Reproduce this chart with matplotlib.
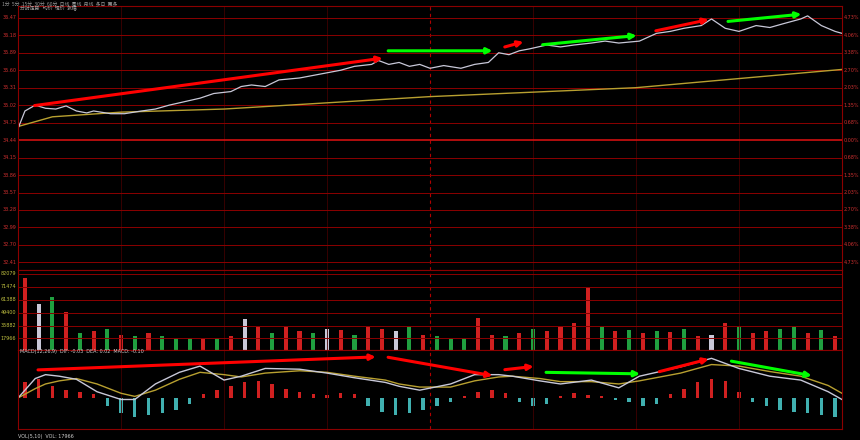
import matplotlib.pyplot as plt
import numpy as np

# intraday minute index (0..240) and % change
price_t = [0, 2, 5, 8, 11, 14, 17, 20, 22, 27, 31, 36, 40, 44, 49, 53, 57, 62, 65, 68, 72, 76,
           82, 88, 94, 98, 103, 105, 108, 111, 114, 117, 120, 124, 129, 133, 137, 140, 143, 146,
           149, 154, 158, 162, 167, 171, 175, 181, 186, 190, 194, 199, 202, 206, 210, 215, 219,
           223, 228, 230, 234, 238, 240]
price = [0.30, 0.75, 0.90, 0.82, 0.80, 0.88, 0.75, 0.70, 0.75, 0.68, 0.68, 0.75, 0.80, 0.90,
         1.00, 1.08, 1.20, 1.25, 1.38, 1.42, 1.38, 1.55, 1.60, 1.70, 1.80, 1.90, 1.95, 2.05, 1.95,
         2.00, 1.90, 1.95, 1.85, 1.92, 1.85, 1.95, 2.00, 2.25, 2.20, 2.30, 2.35, 2.45, 2.40, 2.45,
         2.50, 2.55, 2.50, 2.55, 2.75, 2.80, 2.88, 2.95, 3.12, 2.88, 2.80, 2.95, 2.90, 3.00, 3.12,
         3.20, 2.95, 2.80, 2.75]
avg_t = [0, 10, 30, 60, 120, 180, 240]
avg = [0.35, 0.60, 0.72, 0.80, 1.12, 1.35, 1.82]

left_labels = ['36.47', '36.18', '35.89', '35.60', '35.31', '35.02', '34.73', '34.44',
               '34.15', '33.86', '33.57', '33.28', '32.99', '32.70', '32.41']
right_labels = ['4.73%', '4.06%', '3.38%', '2.70%', '2.03%', '1.35%', '0.68%', '0.00%',
                '0.68%', '1.35%', '2.03%', '2.70%', '3.38%', '4.06%', '4.73%']

vol_t = list(range(2, 240, 4))
vol = [95, 60, 70, 50, 22, 25, 28, 20, 18, 22, 18, 15, 16, 14, 15, 18, 40, 30, 22, 30, 25,
       22, 28, 26, 20, 30, 28, 25, 30, 20, 18, 14, 16, 42, 20, 18, 22, 28, 25, 30, 35, 82,
       30, 25, 26, 22, 25, 24, 28, 18, 20, 35, 30, 22, 25, 28, 30, 22, 26, 18]
vol_c = list('rwgrgrgrgrgggrgrwrgrrgwrgrrwgrgggrrgrgrrrrgrgrgrgrwrgrrggrgr')
vol_labels = ['82079', '71474', '61388', '49400', '35882', '17966']

macd_t = [0, 5, 8, 12, 17, 23, 30, 34, 40, 47, 53, 60, 65, 72, 82, 90, 98, 107, 111, 117,
          126, 133, 140, 144, 152, 158, 167, 175, 181, 193, 202, 210, 219, 228, 236, 240]
dif = [0.0, 2.5, 3.0, 2.8, 2.4, 0.8, -0.2, -0.2, 1.8, 3.3, 4.1, 2.3, 2.8, 3.8, 3.7, 3.2,
       2.6, 2.0, 1.5, 1.0, 1.8, 3.0, 3.0, 2.8, 2.2, 1.8, 2.3, 1.3, 2.8, 4.0, 5.1, 3.8, 2.8,
       2.3, 0.8, -0.2]
dea = [0.0, 1.2, 1.8, 2.2, 2.5, 1.8, 0.6, 0.2, 1.0, 2.4, 3.3, 3.0, 2.7, 3.2, 3.5, 3.3, 2.8,
       2.3, 1.8, 1.4, 1.4, 2.2, 2.7, 2.8, 2.5, 2.1, 2.1, 1.8, 2.2, 3.2, 4.3, 4.1, 3.4, 2.8,
       1.6, 0.6]
hist_t = list(range(2, 240, 4))
hist = [2.0, 2.5, 1.5, 1.0, 0.8, 0.5, -1.0, -2.0, -2.5, -2.2, -2.0, -1.5, -0.8, 0.5, 1.0,
        1.5, 2.0, 2.2, 1.8, 1.2, 0.8, 0.5, 0.4, 0.6, 0.5, -1.0, -1.8, -2.2, -2.0, -1.5, -1.0,
        -0.5, 0.3, 0.8, 1.0, 0.6, -0.5, -1.0, -0.8, 0.3, 0.6, 0.4, 0.2, -0.3, -0.5, -1.0,
        -0.8, 0.5, 1.2, 2.0, 2.5, 2.2, 0.8, -0.5, -1.0, -1.5, -1.8, -2.0, -2.2, -2.5]

# trend annotations (start t, start y, end t, end y, colour)
price_arrows = [(4, 0.88, 107, 2.12, 'red'), (107, 2.30, 139, 2.30, 'lime'),
                (141, 2.38, 148, 2.55, 'red'), (152, 2.45, 181, 2.70, 'lime'),
                (185, 2.80, 202, 3.12, 'red'), (206, 3.05, 229, 3.25, 'lime')]
macd_arrows = [(5, 3.6, 105, 5.3, 'red'), (107, 5.3, 139, 2.8, 'red'),
               (141, 3.6, 151, 4.1, 'red'), (153, 3.3, 182, 3.1, 'lime'),
               (186, 3.3, 202, 5.1, 'red'), (207, 4.8, 232, 2.8, 'lime')]

BG = 'black'
GRID = '#8b0000'
fig = plt.figure(figsize=(8.6, 4.4), dpi=100, facecolor=BG)
ax1 = fig.add_axes([0.021, 0.386, 0.958, 0.60], facecolor=BG)
ax2 = fig.add_axes([0.021, 0.205, 0.958, 0.181], facecolor=BG)
ax3 = fig.add_axes([0.021, 0.025, 0.958, 0.18], facecolor=BG)

for ax in (ax1, ax2, ax3):
    ax.set_xlim(0, 240)
    for s in ax.spines.values():
        s.set_color(GRID)
    ax.set_xticks([])
    ax.set_yticks([])
    for vx in (30, 60, 90, 150, 180, 210):
        ax.axvline(vx, color='#400000', lw=0.6)
    ax.axvline(120, color='#b00000', lw=0.8, ls=(0, (3, 3)))

# price panel
ax1.set_ylim(-3.35, 3.45)
levels = np.linspace(-3.15, 3.15, 15)
for i, lv in enumerate(levels):
    ax1.axhline(lv, color='#d01010' if i == 7 else GRID, lw=1.2 if i == 7 else 0.7)
    fig.text(0.002, ax1.transData.transform((0, lv))[1] / 440 if False else 0, '')
ax1.plot(avg_t, avg, color='#b8a030', lw=1.0)
ax1.plot(price_t, price, color='#c8c8d8', lw=0.9)
for t0, y0, t1, y1, c in price_arrows:
    ax1.annotate('', xy=(t1, y1), xytext=(t0, y0),
                 arrowprops=dict(arrowstyle='-|>', color=c, lw=2.2, mutation_scale=8))
for lv, l, r in zip(levels[::-1], left_labels, right_labels):
    ax1.text(-0.5, lv, l, color='#d03030', fontsize=3.5, ha='right', va='center')
    ax1.text(240.5, lv, r, color='#d03030', fontsize=3.5, ha='left', va='center')
ax1.text(0.5, 3.35, '分时走势   均价  现价  涨幅', color='#aaaaaa', fontsize=3.5,
         family=['Noto Sans CJK SC', 'DejaVu Sans'])
fig.text(0.002, 0.995, '1分  5分  15分  30分  60分  日线  周线  月线  多日  更多',
         color='#999999', fontsize=3.5, va='top', family=['Noto Sans CJK SC', 'DejaVu Sans'])

# volume panel
ax2.set_ylim(0, 105)
for i, lv in enumerate([100, 83, 66, 49, 32, 15]):
    ax2.axhline(lv, color=GRID, lw=0.7)
    ax2.text(-0.5, lv, vol_labels[i], color='#c0c040', fontsize=3.5, ha='right', va='center')
cmap = {'r': '#d02020', 'g': '#20a040', 'w': '#c8c8d8'}
ax2.bar(vol_t, vol, width=1.2, color=[cmap[c] for c in vol_c])

# MACD panel
ax3.set_ylim(-4, 6.2)
ax3.bar(hist_t, hist, width=1.0,
        color=['#d02020' if h > 0 else '#40b0b0' for h in hist])
ax3.plot(macd_t, dea, color='#b8a030', lw=1.0)
ax3.plot(macd_t, dif, color='#c8c8d8', lw=1.0)
for t0, y0, t1, y1, c in macd_arrows:
    ax3.annotate('', xy=(t1, y1), xytext=(t0, y0),
                 arrowprops=dict(arrowstyle='-|>', color=c, lw=2.2, mutation_scale=8))
ax3.text(0.5, 5.8, 'MACD(12,26,9)  DIF: -0.03  DEA: 0.02  MACD: -0.10', color='#cccccc',
         fontsize=3.5)
fig.text(0.021, 0.005, 'VOL(5,10)  VOL: 17966', color='#cccccc', fontsize=3.5)

fig.savefig('out.png', dpi=100, facecolor=BG)
